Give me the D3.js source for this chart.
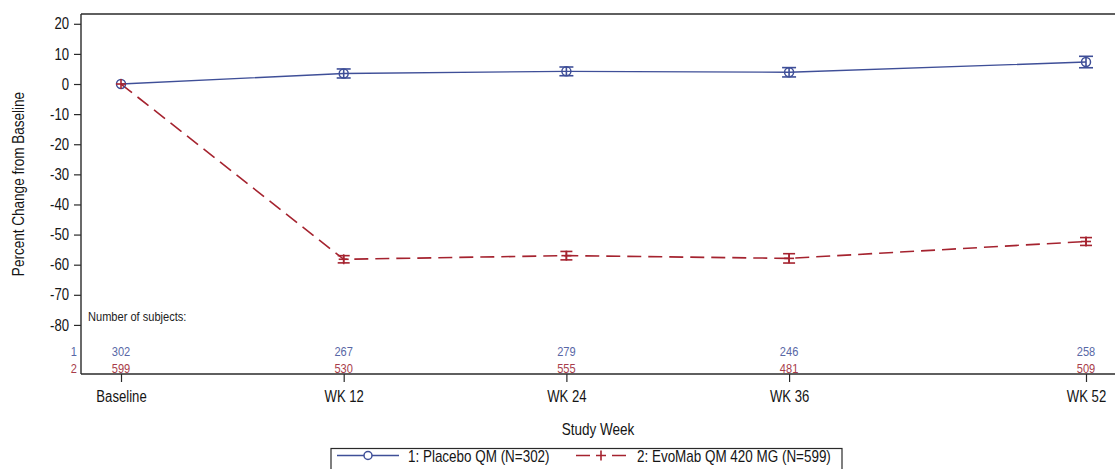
<!DOCTYPE html>
<html>
<head>
<meta charset="utf-8">
<script src="https://cdn.jsdelivr.net/npm/d3@7"></script>
<style>
  html, body { margin: 0; padding: 0; background: #fff; }
  svg { display: block; }
  text { font-family: "Liberation Sans", Arial, sans-serif; }
</style>
</head>
<body>
<svg id="chart" width="1115" height="469"></svg>
<script>
// Visits (study week) and their axis labels
const weeks = [0, 12, 24, 36, 52];
const weekLabels = ["Baseline", "WK 12", "WK 24", "WK 36", "WK 52"];

// Mean percent change from baseline, with standard error
const placeboMean = [0, 3.5, 4.2, 3.9, 7.3];
const placeboSE   = [0, 1.5, 1.45, 1.55, 1.9];
const evoMean     = [0, -58.2, -57.0, -57.9, -52.3];
const evoSE       = [0, 1.2, 1.4, 1.55, 1.3];

// Number of subjects at each visit
const placeboN = [302, 267, 279, 246, 258];
const evoN     = [599, 530, 555, 481, 509];

const yTicks = [20, 10, 0, -10, -20, -30, -40, -50, -60, -70, -80];
const legendLabels = ["1: Placebo QM (N=302)", "2: EvoMab QM 420 MG (N=599)"];

const blue = "#3f4f98";
const red = "#a5232f";
const blueText = "#5867a6";
const redText = "#a83c4a";
const axisColor = "#2a2a2a";
const textColor = "#151515";

const svg = d3.select("#chart");
const plotLeft = 81, plotTop = 14, plotRight = 1115, plotBottom = 374;

const x = d3.scaleLinear().domain([0, 52]).range([121, 1086]);
const y = d3.scaleLinear().domain([-96.3, 23.25]).range([plotBottom, plotTop]);

// Frame: top rule plus the two axes
svg.append("line").attr("x1", plotLeft).attr("x2", plotRight).attr("y1", plotTop).attr("y2", plotTop)
  .attr("stroke", axisColor).attr("stroke-width", 1.4);

const yAxis = svg.append("g").attr("transform", `translate(${plotLeft},0)`)
  .call(d3.axisLeft(y).tickValues(yTicks).tickSize(7).tickPadding(5)
    .tickFormat(d => String(d)));
yAxis.select(".domain").attr("d", `M0,${plotTop}V${plotBottom}`).attr("stroke", axisColor).attr("stroke-width", 1.4);
yAxis.selectAll(".tick line").attr("stroke", axisColor).attr("stroke-width", 1.2);
yAxis.selectAll(".tick text").attr("font-size", 16).attr("fill", textColor)
  .style("font-family", '"Liberation Sans", Arial, sans-serif');

const xAxis = svg.append("g").attr("transform", `translate(0,${plotBottom})`)
  .call(d3.axisBottom(x).tickValues(weeks).tickSize(8).tickPadding(9)
    .tickFormat((d, i) => weekLabels[i]));
xAxis.select(".domain").attr("d", `M${plotLeft},0H${plotRight}`).attr("stroke", axisColor).attr("stroke-width", 1.4);
xAxis.selectAll(".tick line").attr("stroke", axisColor).attr("stroke-width", 1.2);
xAxis.selectAll(".tick text").attr("font-size", 16).attr("fill", textColor)
  .style("font-family", '"Liberation Sans", Arial, sans-serif');

// Axis titles
svg.append("text").attr("x", 598).attr("y", 435).attr("text-anchor", "middle")
  .attr("font-size", 16.5).attr("fill", textColor).text("Study Week");
svg.append("text").attr("transform", "translate(24,184) rotate(-90)").attr("text-anchor", "middle")
  .attr("font-size", 16.5).attr("fill", textColor).text("Percent Change from Baseline");

// Lines
const lineGen = d3.line().x((d, i) => x(weeks[i])).y(d => y(d));

svg.append("path").datum(placeboMean).attr("d", lineGen)
  .attr("fill", "none").attr("stroke", blue).attr("stroke-width", 1.4);
svg.append("path").datum(evoMean).attr("d", lineGen)
  .attr("fill", "none").attr("stroke", red).attr("stroke-width", 1.6)
  .attr("stroke-dasharray", "14,7");

// Error bars with caps
function errorBars(mean, se, color, cap) {
  const g = svg.append("g").attr("stroke", color).attr("stroke-width", 1.6);
  mean.forEach((m, i) => {
    if (se[i] <= 0) return;
    const cx = x(weeks[i]);
    g.append("line").attr("x1", cx).attr("x2", cx).attr("y1", y(m - se[i])).attr("y2", y(m + se[i]));
    g.append("line").attr("x1", cx - cap).attr("x2", cx + cap).attr("y1", y(m - se[i])).attr("y2", y(m - se[i]));
    g.append("line").attr("x1", cx - cap).attr("x2", cx + cap).attr("y1", y(m + se[i])).attr("y2", y(m + se[i]));
  });
}
errorBars(placeboMean, placeboSE, blue, 7);
errorBars(evoMean, evoSE, red, 6);

// Markers: open circles for placebo, plus signs for EvoMab
svg.append("g").selectAll("circle").data(placeboMean).join("circle")
  .attr("cx", (d, i) => x(weeks[i])).attr("cy", d => y(d)).attr("r", 4.5)
  .attr("fill", "none").attr("stroke", blue).attr("stroke-width", 1.5);
const plus = svg.append("g").attr("stroke", red).attr("stroke-width", 1.6);
evoMean.forEach((m, i) => {
  const cx = x(weeks[i]), cy = y(m);
  plus.append("line").attr("x1", cx - 5).attr("x2", cx + 5).attr("y1", cy).attr("y2", cy);
  plus.append("line").attr("x1", cx).attr("x2", cx).attr("y1", cy - 5).attr("y2", cy + 5);
});

// Subject counts
svg.append("text").attr("x", 88).attr("y", 321).attr("font-size", 13.5).attr("fill", "#222")
  .text("Number of subjects:");
svg.append("text").attr("x", 77).attr("y", 356).attr("text-anchor", "end")
  .attr("font-size", 13.5).attr("fill", blueText).text("1");
svg.append("text").attr("x", 77).attr("y", 372.5).attr("text-anchor", "end")
  .attr("font-size", 13.5).attr("fill", redText).text("2");
svg.append("g").selectAll("text").data(placeboN).join("text")
  .attr("x", (d, i) => x(weeks[i])).attr("y", 356).attr("text-anchor", "middle")
  .attr("font-size", 13.5).attr("fill", blueText).text(d => d);
svg.append("g").selectAll("text").data(evoN).join("text")
  .attr("x", (d, i) => x(weeks[i])).attr("y", 372.5).attr("text-anchor", "middle")
  .attr("font-size", 13.5).attr("fill", redText).text(d => d);

// Legend
const lg = svg.append("g");
lg.append("rect").attr("x", 331).attr("y", 448.5).attr("width", 511).attr("height", 30)
  .attr("fill", "#fff").attr("stroke", axisColor).attr("stroke-width", 1.2);
lg.append("line").attr("x1", 337).attr("x2", 399).attr("y1", 455.5).attr("y2", 455.5)
  .attr("stroke", blue).attr("stroke-width", 1.4);
lg.append("circle").attr("cx", 368).attr("cy", 455.5).attr("r", 4)
  .attr("fill", "#fff").attr("stroke", blue).attr("stroke-width", 1.5);
lg.append("text").attr("x", 408).attr("y", 462).attr("font-size", 16.4).attr("fill", textColor)
  .text(legendLabels[0]);
lg.append("line").attr("x1", 576).attr("x2", 626).attr("y1", 455.5).attr("y2", 455.5)
  .attr("stroke", red).attr("stroke-width", 1.6).attr("stroke-dasharray", "14,6,10,6,14");
lg.append("line").attr("x1", 601).attr("x2", 601).attr("y1", 450.5).attr("y2", 460.5)
  .attr("stroke", red).attr("stroke-width", 1.6);
lg.append("text").attr("x", 637).attr("y", 462).attr("font-size", 16.4).attr("fill", textColor)
  .text(legendLabels[1]);

// Condensed lettering: compress every label horizontally to a narrow face
svg.selectAll("text").each(function () {
  const w = this.getComputedTextLength();
  d3.select(this).attr("textLength", (w * 0.82).toFixed(2)).attr("lengthAdjust", "spacingAndGlyphs");
});
</script>
</body>
</html>
